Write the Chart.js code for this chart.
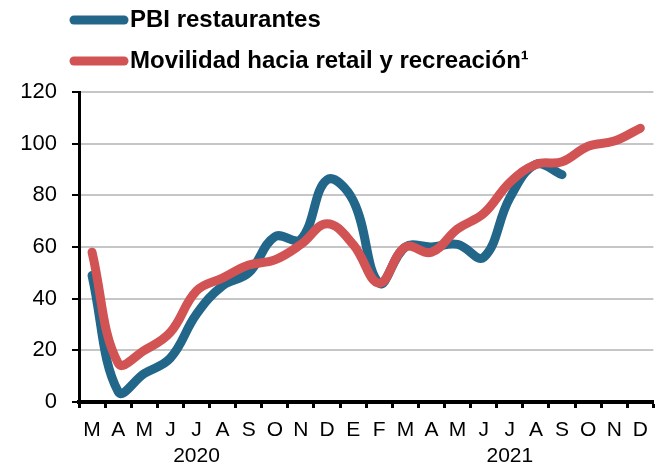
<!DOCTYPE html>
<html>
<head>
<meta charset="utf-8">
<script src="https://cdn.jsdelivr.net/npm/chart.js@4.4.1/dist/chart.umd.min.js"></script>
<style>
  html, body { margin: 0; padding: 0; background: #fff; }
  #wrap { width: 658px; height: 466px; position: relative; }
</style>
</head>
<body>
<div id="wrap"><canvas id="chart"></canvas></div>
<script>
// meses de marzo 2020 a diciembre 2021
const months = ['M','A','M','J','J','A','S','O','N','D','E','F','M','A','M','J','J','A','S','O','N','D'];
// año que va debajo de cada mes (vacío si no lleva)
const years = ['','','','','2020','','','','','','','','','','','','2021','','','','',''];
const yTicks = [0, 20, 40, 60, 80, 100, 120];

const pbiRestaurantes = [49, 4, 11, 17, 34, 45, 50, 64, 63, 86, 78, 46, 60, 60, 61, 56, 79, 92, 88, null, null, null];
const movilidad = [58, 15, 20, 27, 43, 48, 53, 55, 61, 69, 61, 46, 60, 58, 67, 73, 85, 92, 93, 99, 101, 106];

const BLUE = '#22668A';
const RED = '#D15354';
const FONT = "'Liberation Sans', Arial, sans-serif";

// leyenda dibujada a mano, una serie por renglón
const legendPlugin = {
    id: 'lineLegend',
    afterDraw(chart) {
        const ctx = chart.ctx;
        const items = [
            { label: 'PBI restaurantes', color: BLUE, y: 20 },
            { label: 'Movilidad hacia retail y recreación¹', color: RED, y: 61 }
        ];
        ctx.save();
        items.forEach(it => {
            ctx.strokeStyle = it.color;
            ctx.lineWidth = 9;
            ctx.lineCap = 'round';
            ctx.beginPath();
            ctx.moveTo(74, it.y);
            ctx.lineTo(124, it.y);
            ctx.stroke();
            ctx.fillStyle = '#000';
            ctx.font = 'bold 24px ' + FONT;
            ctx.textBaseline = 'middle';
            ctx.fillText(it.label, 130, it.y);
        });
        ctx.restore();
    }
};

const ctx = document.getElementById('chart').getContext('2d');
new Chart(ctx, {
    type: 'line',
    data: {
        labels: months,
        datasets: [{
            label: 'Movilidad hacia retail y recreación¹',
            data: movilidad,
            borderColor: RED,
            borderWidth: 9,
            tension: 0.4,
            pointRadius: 0,
            borderCapStyle: 'round',
            borderJoinStyle: 'round',
            fill: false
        }, {
            label: 'PBI restaurantes',
            data: pbiRestaurantes,
            borderColor: BLUE,
            borderWidth: 9,
            tension: 0.4,
            pointRadius: 0,
            borderCapStyle: 'round',
            borderJoinStyle: 'round',
            fill: false
        }]
    },
    options: {
        responsive: true,
        maintainAspectRatio: false,
        animation: false,
        layout: { padding: { top: 92, right: 2, left: 0, bottom: 0 } },
        plugins: {
            legend: { display: false },
            tooltip: { enabled: false }
        },
        scales: {
            x: {
                offset: true,
                afterFit(scale) { scale.height = 64; },
                grid: {
                    offset: true,
                    drawOnChartArea: false,
                    drawTicks: true,
                    tickLength: 6,
                    tickColor: '#000',
                    tickWidth: 3
                },
                border: { display: true, color: '#000', width: 4 },
                ticks: {
                    color: '#000',
                    maxRotation: 0,
                    autoSkip: false,
                    padding: 10,
                    font: { family: FONT, size: 21, lineHeight: 1.2 },
                    callback(value, i) {
                        return years[i] ? [months[i], years[i]] : months[i];
                    }
                }
            },
            y: {
                min: 0,
                max: 120,
                afterFit(scale) { scale.width = 79; },
                afterBuildTicks(scale) { scale.ticks = yTicks.map(v => ({ value: v })); },
                grid: {
                    color: '#c6c6c6',
                    lineWidth: 2,
                    drawTicks: true,
                    tickLength: 7,
                    tickColor: '#000',
                    tickWidth: 2
                },
                border: { display: true, color: '#000', width: 3 },
                ticks: {
                    color: '#000',
                    padding: 15,
                    font: { family: FONT, size: 22 }
                }
            }
        }
    },
    plugins: [legendPlugin]
});
</script>
</body>
</html>
